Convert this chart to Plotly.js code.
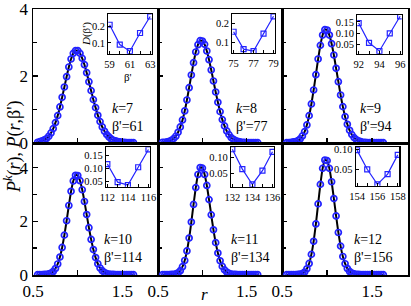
<!DOCTYPE html>
<html><head><meta charset="utf-8">
<script src="https://cdn.plot.ly/plotly-3.0.1.min.js"></script>
<style>html,body{margin:0;padding:0;background:#fff;overflow:hidden}</style>
</head><body><div id="chart" style="width:411px;height:306px"></div>
<script>
// ---------- data ----------
const r = [0.55,0.575,0.6,0.625,0.65,0.675,0.7,0.725,0.75,0.775,0.8,0.825,0.85,0.875,0.9,0.925,0.95,0.975,
           1.0,1.025,1.05,1.075,1.1,1.125,1.15,1.175,1.2,1.225,1.25,1.275,1.3,1.325,1.35,1.375,1.4,1.425,1.45,1.475,1.5,1.525,1.55,1.575,1.6,1.625];
const P7  = [0.01,0.03,0.05,0.08,0.12,0.19,0.29,0.42,0.60,0.81,1.07,1.36,1.67,1.98,2.27,2.51,2.68,2.76,
             2.76,2.68,2.53,2.34,2.10,1.83,1.56,1.29,1.05,0.82,0.63,0.47,0.34,0.24,0.17,0.11,0.07,0.05,0.03,0.02,0.01,0.01,0.00,0.00,0.00,0.00];
const P8  = [0.01,0.01,0.02,0.04,0.07,0.12,0.19,0.31,0.47,0.68,0.95,1.28,1.65,2.03,2.40,2.72,2.94,3.06,
             3.05,2.95,2.75,2.49,2.18,1.85,1.52,1.21,0.93,0.69,0.50,0.35,0.24,0.15,0.10,0.06,0.04,0.02,0.01,0.01,0.00,0.00,0.00,0.00,0.00,0.00];
const P9  = [0.00,0.00,0.01,0.02,0.03,0.06,0.11,0.20,0.33,0.53,0.81,1.16,1.58,2.04,2.51,2.92,3.23,3.39,
             3.38,3.23,2.97,2.63,2.23,1.83,1.43,1.08,0.78,0.55,0.37,0.24,0.15,0.09,0.05,0.03,0.01,0.01,0.00,0.00,0.00,0.00,0.00,0.00,0.00,0.00];
const P10 = [0.00,0.00,0.00,0.01,0.01,0.03,0.06,0.12,0.23,0.40,0.66,1.02,1.48,2.02,2.59,3.12,3.51,3.72,
             3.71,3.52,3.18,2.74,2.25,1.76,1.32,0.94,0.64,0.41,0.25,0.15,0.08,0.04,0.02,0.01,0.01,0.00,0.00,0.00,0.00,0.00,0.00,0.00,0.00,0.00];
const P11 = [0.00,0.00,0.00,0.00,0.01,0.01,0.03,0.07,0.15,0.30,0.53,0.89,1.37,1.97,2.63,3.26,3.75,4.01,
             3.99,3.75,3.34,2.81,2.24,1.68,1.20,0.81,0.52,0.31,0.18,0.10,0.05,0.02,0.01,0.01,0.00,0.00,0.00,0.00,0.00,0.00,0.00,0.00,0.00,0.00];
const P12 = [0.00,0.00,0.00,0.00,0.00,0.01,0.02,0.04,0.10,0.22,0.42,0.76,1.25,1.90,2.65,3.38,3.98,4.29,
             4.27,3.98,3.48,2.85,2.20,1.58,1.07,0.68,0.41,0.23,0.12,0.06,0.03,0.01,0.01,0.00,0.00,0.00,0.00,0.00,0.00,0.00,0.00,0.00,0.00,0.00];

const kValues   = [7, 8, 9, 10, 11, 12];
const betaBest  = [61, 77, 94, 114, 134, 156];

const beta7  = [59, 60, 61, 62, 63];      const D7  = [0.21, 0.09, 0.05, 0.16, 0.26];
const beta8  = [75, 76, 77, 78, 79];      const D8  = [0.155, 0.065, 0.055, 0.145, 0.235];
const beta9  = [92, 93, 94, 95, 96];      const D9  = [0.145, 0.058, 0.022, 0.10, 0.175];
const beta10 = [112, 113, 114, 115, 116]; const D10 = [0.116, 0.048, 0.037, 0.104, 0.171];
const beta11 = [132, 133, 134, 135, 136]; const D11 = [0.125, 0.063, 0.015, 0.058, 0.117];
const beta12 = [154, 155, 156, 157, 158]; const D12 = [0.098, 0.050, 0.0125, 0.038, 0.086];

const mainTickVals = [0.5, 1.5];
const yTickVals = [0, 2, 4];

// ---------- layout helpers ----------
const W = 411, H = 306, ML = 33, MR = 3, MT = 9, MB = 31;
const PW = W - ML - MR, PH = H - MT - MB;
const fx = px => (px - ML) / PW;
const fy = py => (H - MB - py) / PH;

const FONT = "'Liberation Serif', 'Times New Roman', 'DejaVu Serif', serif";
const BLUE = "#2323ff";

const Ps = [P7, P8, P9, P10, P11, P12];
const betas = [beta7, beta8, beta9, beta10, beta11, beta12];
const Ds = [D7, D8, D9, D10, D11, D12];

const colsPx = [[33, 158], [158, 282], [282, 408]];
const rowsPx = [[9, 143], [143, 275]];
const yRanges = [[-0.012, 4.012], [-0.012, 4.93]];

const insetPx = [
  [108.3, 151.7, 14, 53.7],
  [232.3, 275, 14, 53],
  [357.3, 401.7, 14.7, 53.7],
  [106, 150, 147.3, 186.7],
  [231, 274, 146.7, 186.7],
  [355.7, 399.3, 147.3, 185.7]
];
const insetY = [[0.035, 0.275], [0.045, 0.247], [0.010, 0.182], [0.031, 0.179], [0.008, 0.133], [0.009, 0.105]];
const insetYT = [
  [[0.1, 0.2], ["0.1", "0.2"]],
  [[0.1, 0.2], ["0.1", "0.2"]],
  [[0.05, 0.10, 0.15], ["0.05", "0.10", "0.15"]],
  [[0.05, 0.10, 0.15], ["0.05", "0.10", "0.15"]],
  [[0.05, 0.10], ["0.05", "0.10"]],
  [[0.05, 0.10], ["0.05", "0.10"]]
];
// left x, centre y of the two-line label block
const labelPx = [[110, 117], [234, 117], [358, 117], [102, 248.5], [229, 248.5], [352, 248.5]];

const traces = [];
const layout = {
  width: W, height: H,
  margin: {l: ML, r: MR, t: MT, b: MB, pad: 0},
  paper_bgcolor: "#fff", plot_bgcolor: "rgba(0,0,0,0)",
  showlegend: false,
  font: {family: FONT, color: "#000", size: 16},
  annotations: []
};

for (let i = 0; i < 6; i++) {
  const row = Math.floor(i / 3), col = i % 3;
  const n = i + 1;
  const xa = "x" + (n === 1 ? "" : n), ya = "y" + (n === 1 ? "" : n);
  traces.push({x: r, y: Ps[i], xaxis: xa, yaxis: ya, mode: "lines",
    line: {color: "#000", width: 2, shape: "spline", smoothing: 0.6}, hoverinfo: "skip"});
  traces.push({x: r, y: Ps[i], xaxis: xa, yaxis: ya, mode: "markers",
    marker: {symbol: "circle-open", size: 6, color: BLUE, line: {width: 1.7, color: BLUE}}});
  layout["xaxis" + (n === 1 ? "" : n)] = {
    domain: [fx(colsPx[col][0]), fx(colsPx[col][1])], anchor: ya,
    range: [0.498, 1.9], showgrid: false, zeroline: false,
    showline: true, mirror: true, linecolor: "#000", linewidth: 1.5,
    ticks: "inside", ticklen: 5, tickwidth: 1.3, tickcolor: "#000",
    tickmode: "array", tickvals: mainTickVals, ticklabeloverflow: "allow",
    minor: {tick0: 0.5, dtick: 0.5, ticks: "inside", ticklen: 5, tickwidth: 1.3, tickcolor: "#000", showgrid: false},
    showticklabels: row === 1, tickfont: {family: FONT, size: 17}
  };
  layout["yaxis" + (n === 1 ? "" : n)] = {
    domain: [fy(rowsPx[row][1]), fy(rowsPx[row][0])], anchor: xa,
    range: yRanges[row], showgrid: false, zeroline: false,
    showline: true, mirror: true, linecolor: "#000", linewidth: 1.5,
    ticks: "inside", ticklen: 5, tickwidth: 1.3, tickcolor: "#000",
    tickmode: "array", tickvals: yTickVals, ticklabeloverflow: "allow",
    minor: {tick0: 0, dtick: 1, ticks: "inside", ticklen: 4, tickwidth: 1.2, tickcolor: "#000", showgrid: false},
    showticklabels: col === 0, tickfont: {family: FONT, size: 17}
  };
  // inset
  const m = n + 6;
  const b = betas[i], p = insetPx[i];
  traces.push({x: b, y: Ds[i], xaxis: "x" + m, yaxis: "y" + m, mode: "lines+markers",
    line: {color: BLUE, width: 1.2},
    marker: {symbol: "square-open", size: 5, color: BLUE, line: {width: 1.2, color: BLUE}}});
  layout["xaxis" + m] = {
    domain: [fx(p[0]), fx(p[1])], anchor: "y" + m,
    range: [b[0] - 0.13, b[4] + 0.15], showgrid: false, zeroline: false,
    showline: true, mirror: true, linecolor: "#000", linewidth: 1.2,
    ticks: "inside", ticklen: 3, tickwidth: 1, tickcolor: "#000",
    tickmode: "array", tickvals: [b[0], b[2], b[4]], ticklabeloverflow: "allow",
    minor: {tick0: b[0], dtick: 1, ticks: "inside", ticklen: 3, tickwidth: 1, tickcolor: "#000", showgrid: false},
    tickfont: {family: FONT, size: 10.5}
  };
  layout["yaxis" + m] = {
    domain: [fy(p[3]), fy(p[2])], anchor: "x" + m,
    range: insetY[i], showgrid: false, zeroline: false,
    showline: true, mirror: true, linecolor: "#000", linewidth: 1.2,
    ticks: "inside", ticklen: 3, tickwidth: 1, tickcolor: "#000",
    tickmode: "array", tickvals: insetYT[i][0], ticktext: insetYT[i][1], ticklabeloverflow: "allow",
    tickfont: {family: FONT, size: 10.5}
  };
  // k / beta' labels
  const lp = labelPx[i];
  layout.annotations.push({xref: "paper", yref: "paper", x: fx(lp[0]), y: fy(lp[1]),
    xanchor: "left", yanchor: "middle", align: "left", showarrow: false,
    text: "<i>k</i>=" + kValues[i] + "<br>β'=" + betaBest[i],
    font: {family: FONT, size: 14}});
}

// axis titles
layout.annotations.push({xref: "paper", yref: "paper", x: fx(12.5), y: fy(146.5),
  xanchor: "center", yanchor: "middle", showarrow: false, textangle: -90,
  text: "<i>P</i><sup><i>k</i></sup>(<i>r</i>), <i>P</i>(<i>r</i>,β')", font: {family: FONT, size: 18}});
layout.annotations.push({xref: "paper", yref: "paper", x: fx(204), y: fy(294),
  xanchor: "center", yanchor: "middle", showarrow: false,
  text: "<i>r</i>", font: {family: FONT, size: 17}});
// inset 1 titles
layout.annotations.push({xref: "paper", yref: "paper", x: fx(86), y: fy(34),
  xanchor: "center", yanchor: "middle", showarrow: false, textangle: -90,
  text: "<i>D</i>(β')", font: {family: FONT, size: 11}});
layout.annotations.push({xref: "paper", yref: "paper", x: fx(128), y: fy(77),
  xanchor: "center", yanchor: "middle", showarrow: false,
  text: "β'", font: {family: FONT, size: 11}});

Plotly.newPlot("chart", traces, layout, {displayModeBar: false, staticPlot: true});
</script>
</body></html>
